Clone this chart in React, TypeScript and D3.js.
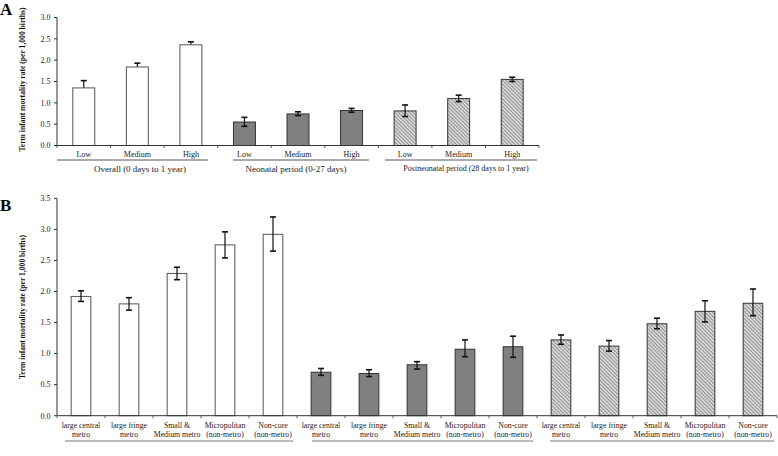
import React from "react";
import * as d3 from "d3";

// Panel A data
const catsA = ["Low", "Medium", "High", "Low", "Medium", "High", "Low", "Medium", "High"];
const valsA = [1.35, 1.84, 2.36, 0.55, 0.74, 0.82, 0.81, 1.10, 1.55];
const loA = [1.35, 1.84, 2.36, 0.45, 0.70, 0.78, 0.68, 1.03, 1.50];
const hiA = [1.52, 1.93, 2.43, 0.66, 0.79, 0.87, 0.95, 1.18, 1.60];
const groupsA = ["Overall (0 days to 1 year)", "Neonatal period (0-27 days)", "Postneonatal period (28 days to 1 year)"];
const ticksA = [0, 0.5, 1, 1.5, 2, 2.5, 3];

// Panel B data
const catsB = [
  ["large central", "metro"], ["large fringe", "metro"], ["Small &", "Medium metro"], ["Micropolitan", "(non-metro)"], ["Non-core", "(non-metro)"],
  ["large central", "metro"], ["large fringe", "metro"], ["Small &", "Medium metro"], ["Micropolitan", "(non-metro)"], ["Non-core", "(non-metro)"],
  ["large central", "metro"], ["large fringe", "metro"], ["Small &", "Medium metro"], ["Micropolitan", "(non-metro)"], ["Non-core", "(non-metro)"],
];
const valsB = [1.92, 1.80, 2.29, 2.75, 2.92, 0.70, 0.68, 0.82, 1.07, 1.11, 1.22, 1.12, 1.48, 1.68, 1.81];
const loB = [1.84, 1.70, 2.19, 2.54, 2.65, 0.65, 0.63, 0.75, 0.95, 0.94, 1.15, 1.04, 1.40, 1.51, 1.61];
const hiB = [2.01, 1.90, 2.39, 2.96, 3.20, 0.76, 0.74, 0.87, 1.22, 1.28, 1.30, 1.21, 1.57, 1.85, 2.04];
const ticksB = [0, 0.5, 1, 1.5, 2, 2.5, 3, 3.5];

const yTitle = "Term infant mortality rate (per 1,000 births)";
const FONT = "'Liberation Serif', 'Times New Roman', serif";

function fillFor(i: number, per: number) {
  const g = Math.floor(i / per);
  return g === 0 ? "#ffffff" : g === 1 ? "#808080" : "url(#hatch)";
}

function ErrorBar({ x, y1, y2, hideLower }: { x: number; y1: number; y2: number; hideLower?: boolean }) {
  const cw = 3;
  return (
    <g stroke="#111" strokeWidth={1.2}>
      <line x1={x} x2={x} y1={y1} y2={y2} />
      <line x1={x - cw} x2={x + cw} y1={y1} y2={y1} strokeWidth={1.6} />
      {!hideLower && <line x1={x - cw} x2={x + cw} y1={y2} y2={y2} strokeWidth={1.6} />}
    </g>
  );
}

export default function App() {
  const xA = d3.scaleBand<number>().domain(d3.range(catsA.length)).range([57, 539]).padding(0);
  const yA = d3.scaleLinear().domain([0, 3]).range([145.5, 17.5]);
  const bwA = xA.bandwidth() * 0.41;

  const xB = d3.scaleBand<number>().domain(d3.range(catsB.length)).range([57, 777]).padding(0);
  const yB = d3.scaleLinear().domain([0, 3.5]).range([415.7, 198.3]);
  const bwB = xB.bandwidth() * 0.41;

  const underA = [[57, 208], [233, 369], [385, 537]];
  const titleXA = [140, 296, 466];
  const titleSizeA = [9, 9, 8];
  const underB = [[65, 293], [312, 533], [550, 774]];

  return (
    <svg width={778} height={456} style={{ position: "absolute", left: 0, top: 0, background: "#fff" }} fontFamily={FONT}>
      <defs>
        <pattern id="hatch" patternUnits="userSpaceOnUse" width={2.6} height={2.6} patternTransform="rotate(45)">
          <rect width={2.6} height={2.6} fill="#e2e2e2" />
          <line x1={0} y1={0.6} x2={2.6} y2={0.6} stroke="#8c8c8c" strokeWidth={1.1} />
        </pattern>
      </defs>

      <text x={0} y={15} fontSize={17} fontWeight="bold" fill="#000">A</text>
      <text x={0} y={211} fontSize={17} fontWeight="bold" fill="#000">B</text>

      {/* ---------- Panel A ---------- */}
      <text transform={`translate(25,${(yA(0) + yA(3)) / 2 - 2}) rotate(-90)`} textAnchor="middle" fontSize={7.6} fontWeight="bold" fill="#111">{yTitle}</text>
      <line x1={57} x2={57} y1={yA(3)} y2={yA(0)} stroke="#333" strokeWidth={1} />
      {ticksA.map((t) => (
        <g key={"ta" + t}>
          <line x1={54} x2={57} y1={yA(t)} y2={yA(t)} stroke="#333" />
          <text x={50.5} y={yA(t) + 2.8} textAnchor="end" fontSize={8} fill="#222">{t.toFixed(1)}</text>
        </g>
      ))}
      {valsA.map((v, i) => {
        const cx = (xA(i) as number) + xA.bandwidth() / 2;
        return (
          <g key={"ba" + i}>
            {i < 3 ? (
              <>
                <ErrorBar x={cx} y1={yA(hiA[i])} y2={yA(v)} hideLower />
                <rect x={cx - bwA / 2} y={yA(v)} width={bwA} height={yA(0) - yA(v)} fill={fillFor(i, 3)} stroke="#555" strokeWidth={1} />
              </>
            ) : (
              <>
                <rect x={cx - bwA / 2} y={yA(v)} width={bwA} height={yA(0) - yA(v)} fill={fillFor(i, 3)} stroke="#333" strokeWidth={1} />
                <ErrorBar x={cx} y1={yA(hiA[i])} y2={yA(loA[i])} />
              </>
            )}
          </g>
        );
      })}
      <line x1={57} x2={539} y1={yA(0)} y2={yA(0)} stroke="#333" strokeWidth={1} />
      {d3.range(catsA.length + 1).map((k) => (
        <line key={"xta" + k} x1={57 + k * xA.bandwidth()} x2={57 + k * xA.bandwidth()} y1={yA(0)} y2={yA(0) + 2.5} stroke="#555" />
      ))}
      {catsA.map((c, i) => (
        <text key={"la" + i} x={(xA(i) as number) + xA.bandwidth() / 2} y={157} textAnchor="middle" fontSize={8} fill="#222">{c}</text>
      ))}
      {groupsA.map((g, gi) => (
        <g key={"ga" + gi}>
          <line x1={underA[gi][0]} x2={underA[gi][1]} y1={160} y2={160} stroke="#444" strokeWidth={0.9} />
          <text x={titleXA[gi]} y={gi === 2 ? 170.5 : 172} textAnchor="middle" fontSize={titleSizeA[gi]} fill="#222">{g}</text>
        </g>
      ))}

      {/* ---------- Panel B ---------- */}
      <text transform={`translate(25,${(yB(0) + yB(3.5)) / 2}) rotate(-90)`} textAnchor="middle" fontSize={7.6} fontWeight="bold" fill="#111">{yTitle}</text>
      <line x1={57} x2={57} y1={yB(3.5)} y2={yB(0)} stroke="#333" strokeWidth={1} />
      {ticksB.map((t) => (
        <g key={"tb" + t}>
          <line x1={54} x2={57} y1={yB(t)} y2={yB(t)} stroke="#333" />
          <text x={50.5} y={yB(t) + 2.8} textAnchor="end" fontSize={8} fill="#222">{t.toFixed(1)}</text>
        </g>
      ))}
      {valsB.map((v, i) => {
        const cx = (xB(i) as number) + xB.bandwidth() / 2;
        return (
          <g key={"bb" + i}>
            <rect x={cx - bwB / 2} y={yB(v)} width={bwB} height={yB(0) - yB(v)} fill={fillFor(i, 5)} stroke={i < 5 ? "#555" : "#333"} strokeWidth={1} />
            <ErrorBar x={cx} y1={yB(hiB[i])} y2={yB(loB[i])} />
          </g>
        );
      })}
      <line x1={57} x2={777} y1={yB(0)} y2={yB(0)} stroke="#333" strokeWidth={1} />
      {d3.range(catsB.length + 1).map((k) => (
        <line key={"xtb" + k} x1={57 + k * xB.bandwidth()} x2={57 + k * xB.bandwidth()} y1={yB(0)} y2={yB(0) + 2.5} stroke="#555" />
      ))}
      {catsB.map((c, i) => (
        <text key={"lb" + i} x={(xB(i) as number) + xB.bandwidth() / 2} textAnchor="middle" fontSize={7.8} fill="#222">
          <tspan x={(xB(i) as number) + xB.bandwidth() / 2} y={427.5}>{c[0]}</tspan>
          <tspan x={(xB(i) as number) + xB.bandwidth() / 2} y={436.5}>{c[1]}</tspan>
        </text>
      ))}
      {underB.map((u, gi) => (
        <line key={"ub" + gi} x1={u[0]} x2={u[1]} y1={441} y2={441} stroke="#666" strokeWidth={0.9} />
      ))}
    </svg>
  );
}
